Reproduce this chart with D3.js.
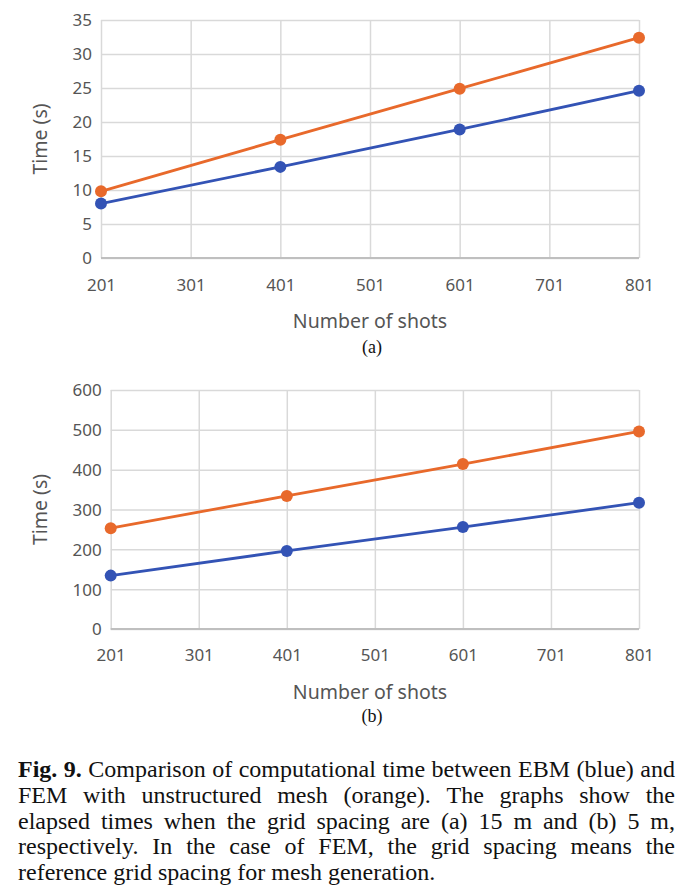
<!DOCTYPE html>
<html><head><meta charset="utf-8">
<script src="https://cdn.jsdelivr.net/npm/d3@7"></script>
<style>
html,body{margin:0;padding:0;background:#fff;}
svg{display:block;}
</style></head>
<body>
<svg id="c" width="693" height="890"></svg>
<script>
const shots = [201, 401, 601, 801];
const xTicks = [201, 301, 401, 501, 601, 701, 801];
const ebmA = [8.0, 13.4, 18.9, 24.6];
const femA = [9.8, 17.4, 24.9, 32.4];
const yTicksA = [0, 5, 10, 15, 20, 25, 30, 35];
const ebmB = [134, 196, 256, 317];
const femB = [253, 334, 414, 496];
const yTicksB = [0, 100, 200, 300, 400, 500, 600];
const xTitle = "Number of shots";
const yTitle = "Time (s)";
const captionLines = [
  "Fig. 9. Comparison of computational time between EBM (blue) and",
  "FEM with unstructured mesh (orange). The graphs show the",
  "elapsed times when the grid spacing are (a) 15 m and (b) 5 m,",
  "respectively. In the case of FEM, the grid spacing means the",
  "reference grid spacing for mesh generation."
];

const svg = d3.select("#c");
const BLUE = "#3353b5", ORANGE = "#e8692b", GRID = "#d9d9d9", AXIS = "#bfbfbf", TXT = "#555555";
const sans = "'Noto Sans', 'Open Sans', sans-serif";

function panel(cfg) {
  const g = svg.append("g");
  const x = d3.scaleLinear().domain([201, 801]).range([cfg.left, cfg.right]);
  const y = d3.scaleLinear().domain([0, cfg.yMax]).range([cfg.bottom, cfg.top]);

  g.append("g").attr("transform", `translate(${cfg.left},0)`)
    .call(d3.axisLeft(y).tickValues(cfg.yTicks).tickSize(-(cfg.right - cfg.left)).tickFormat(""))
    .call(s => s.select(".domain").remove())
    .call(s => s.selectAll("line").attr("stroke", GRID).attr("stroke-width", 1.5));
  g.append("g").attr("transform", `translate(0,${cfg.bottom})`)
    .call(d3.axisBottom(x).tickValues(xTicks).tickSize(-(cfg.bottom - cfg.top)).tickFormat(""))
    .call(s => s.select(".domain").remove())
    .call(s => s.selectAll("line").attr("stroke", GRID).attr("stroke-width", 1.5));
  g.append("line").attr("x1", cfg.left).attr("x2", cfg.right)
    .attr("y1", y(0)).attr("y2", y(0)).attr("stroke", AXIS).attr("stroke-width", 2);

  g.append("g").attr("transform", `translate(${cfg.left - 9},0)`)
    .call(d3.axisLeft(y).tickValues(cfg.yTicks).tickSize(0).tickPadding(0))
    .call(s => s.select(".domain").remove())
    .call(s => s.selectAll("text").attr("fill", TXT).attr("font-family", sans).attr("font-size", 17)
      .attr("x", 0).attr("dy", "0.35em"));
  g.append("g").attr("transform", `translate(0,${cfg.bottom})`)
    .call(d3.axisBottom(x).tickValues(xTicks).tickSize(0).tickPadding(0).tickFormat(d3.format("d")))
    .call(s => s.select(".domain").remove())
    .call(s => s.selectAll("text").attr("fill", TXT).attr("font-family", sans).attr("font-size", 17)
      .attr("y", cfg.xLabelY - cfg.bottom).attr("dy", "0.35em"));

  g.append("text").attr("x", 370).attr("y", cfg.xTitleY).attr("dy", "0.35em")
    .attr("text-anchor", "middle").attr("fill", TXT).attr("font-family", sans).attr("font-size", 19.5)
    .text(xTitle);
  g.append("text").attr("transform", `translate(${cfg.yTitleX},${(cfg.top + cfg.bottom) / 2}) rotate(-90)`)
    .attr("dy", "0.35em").attr("text-anchor", "middle").attr("fill", TXT)
    .attr("font-family", sans).attr("font-size", 19.5).text(yTitle);
  g.append("text").attr("x", 372).attr("y", cfg.subY).attr("text-anchor", "middle")
    .attr("font-family", "'Liberation Serif', 'Times New Roman', serif").attr("font-size", 18)
    .attr("fill", "#111").text(cfg.sub);

  const line = d3.line().x((d, i) => x(shots[i])).y(d => y(d));
  [[cfg.fem, ORANGE], [cfg.ebm, BLUE]].forEach(([vals, col]) => {
    g.append("path").datum(vals).attr("d", line).attr("fill", "none")
      .attr("stroke", col).attr("stroke-width", 2.8);
    g.selectAll(null).data(vals).join("circle")
      .attr("cx", (d, i) => x(shots[i])).attr("cy", d => y(d)).attr("r", 6).attr("fill", col);
  });
}

panel({left: 101, right: 639, top: 20, bottom: 258, yMax: 35, yTicks: yTicksA,
  ebm: ebmA, fem: femA, xLabelY: 285, xTitleY: 321, yTitleX: 40, subY: 353, sub: "(a)"});
panel({left: 110.7, right: 639, top: 390, bottom: 629, yMax: 600, yTicks: yTicksB,
  ebm: ebmB, fem: femB, xLabelY: 655, xTitleY: 692, yTitleX: 40, subY: 722, sub: "(b)"});

// caption, justified word by word
const serif = "'Liberation Serif', 'Times New Roman', serif";
const capX = 18, capW = 657, base0 = 777, lh = 25.8, fs = 24;
captionLines.forEach((ln, i) => {
  const words = ln.split(" ");
  const els = words.map((w, j) => svg.append("text")
    .attr("y", base0 + i * lh).attr("font-family", serif).attr("font-size", fs).attr("fill", "#111")
    .attr("font-weight", (i === 0 && j < 2) ? "bold" : null).text(w));
  const widths = els.map(e => e.node().getComputedTextLength());
  const sum = d3.sum(widths);
  const last = i === captionLines.length - 1;
  const gap = last ? fs * 0.25 : Math.max(2, (capW - sum) / (words.length - 1));
  let cx = capX;
  els.forEach((e, j) => { e.attr("x", cx); cx += widths[j] + gap; });
});
</script>
</body></html>
